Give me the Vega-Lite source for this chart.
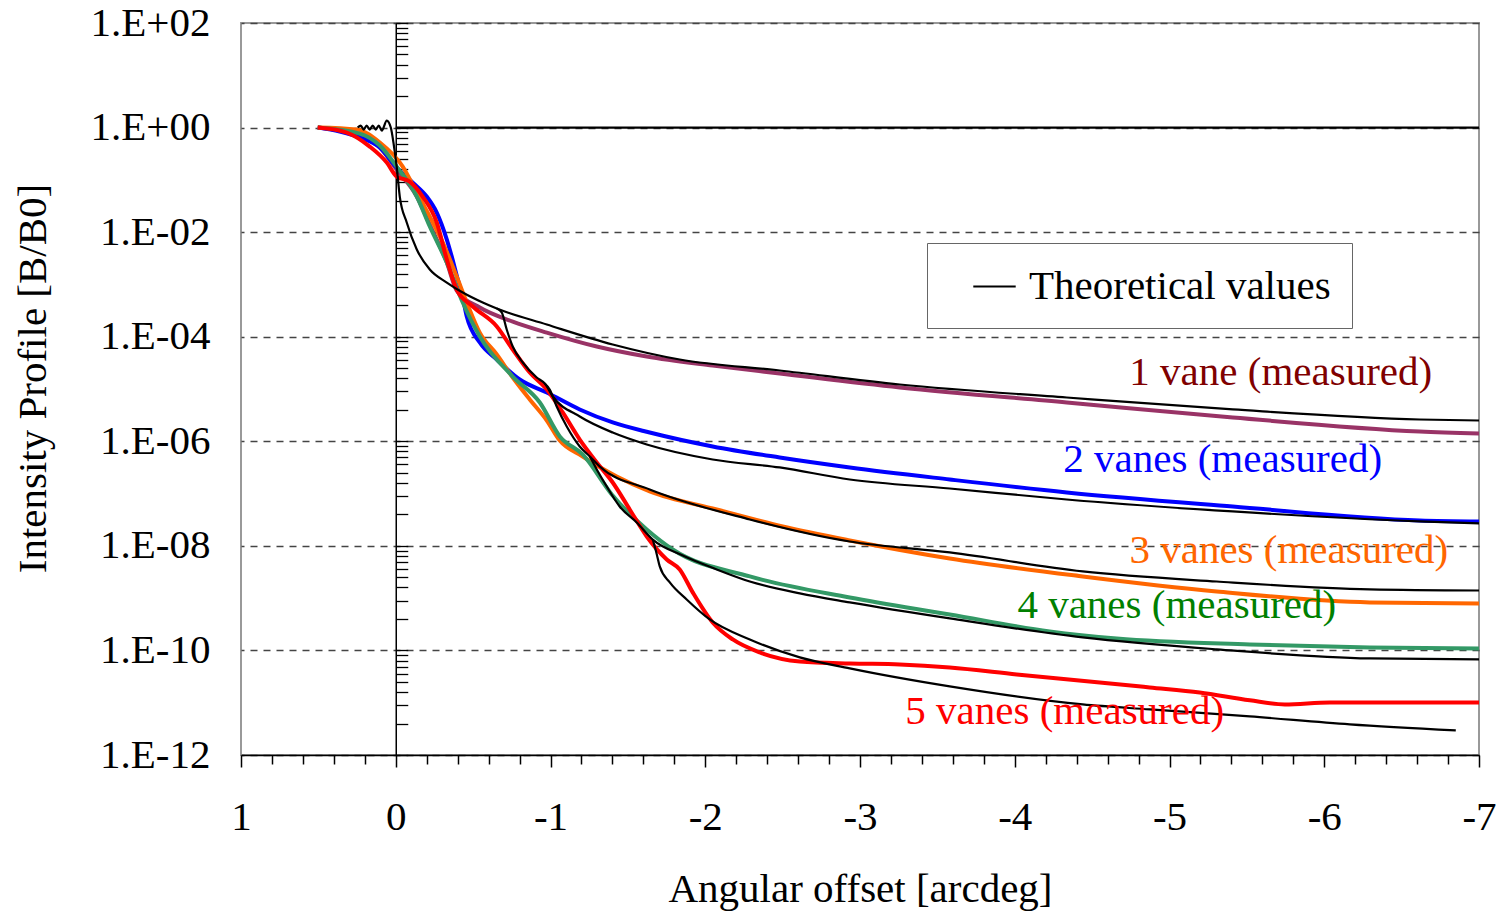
{
  "$schema": "https://vega.github.io/schema/vega-lite/v6.json",
  "width": 1238,
  "height": 732,
  "autosize": {"type": "none"},
  "padding": {"left": 241, "top": 23, "right": 23, "bottom": 156},
  "background": "white",
  "config": {
    "view": {"stroke": "#999999", "strokeWidth": 2},
    "text": {"font": "Liberation Serif"},
    "axis": {"labelOverlap": false}
  },
  "datasets": {
    "measured": [
      {"s":"1 vane","x":0.504,"y":1},{"s":"1 vane","x":0.233,"y":0.673},{"s":"1 vane","x":0.103,"y":0.415},{"s":"1 vane","x":-0.006,"y":0.157},{"s":"1 vane","x":-0.136,"y":0.048},{"s":"1 vane","x":-0.22,"y":0.01397},{"s":"1 vane","x":-0.33,"y":0.00262},{"s":"1 vane","x":-0.394,"y":7.64e-4},{"s":"1 vane","x":-0.543,"y":3.61e-4},{"s":"1 vane","x":-0.756,"y":1.95e-4},{"s":"1 vane","x":-0.976,"y":1.2e-4},{"s":"1 vane","x":-1.299,"y":6.5e-5},{"s":"1 vane","x":-1.622,"y":4.18e-5},{"s":"1 vane","x":-2.048,"y":2.81e-5},{"s":"1 vane","x":-2.481,"y":1.98e-5},{"s":"1 vane","x":-3.257,"y":1.07e-5},{"s":"1 vane","x":-4.336,"y":5.52e-6},{"s":"1 vane","x":-5.409,"y":2.85e-6},{"s":"1 vane","x":-6.617,"y":1.54e-6},{"s":"1 vane","x":-7,"y":1.41e-6},
      {"s":"2 vanes","x":0.504,"y":1},{"s":"2 vanes","x":0.362,"y":0.839},{"s":"2 vanes","x":0.233,"y":0.644},{"s":"2 vanes","x":0.103,"y":0.415},{"s":"2 vanes","x":-0.006,"y":0.172},{"s":"2 vanes","x":-0.11,"y":0.0887},{"s":"2 vanes","x":-0.2,"y":0.048},{"s":"2 vanes","x":-0.265,"y":0.0237},{"s":"2 vanes","x":-0.33,"y":0.00722},{"s":"2 vanes","x":-0.362,"y":0.00341},{"s":"2 vanes","x":-0.401,"y":0.00124},{"s":"2 vanes","x":-0.426,"y":7.0e-4},{"s":"2 vanes","x":-0.459,"y":2.43e-4},{"s":"2 vanes","x":-0.543,"y":7.74e-5},{"s":"2 vanes","x":-0.653,"y":3.66e-5},{"s":"2 vanes","x":-0.801,"y":1.52e-5},{"s":"2 vanes","x":-0.976,"y":8.57e-6},{"s":"2 vanes","x":-1.189,"y":4.06e-6},{"s":"2 vanes","x":-1.402,"y":2.29e-6},{"s":"2 vanes","x":-1.641,"y":1.47e-6},{"s":"2 vanes","x":-2.048,"y":7.96e-7},{"s":"2 vanes","x":-2.481,"y":4.9e-7},{"s":"2 vanes","x":-2.934,"y":3.16e-7},{"s":"2 vanes","x":-3.58,"y":1.86e-7},{"s":"2 vanes","x":-4.336,"y":1.05e-7},{"s":"2 vanes","x":-5.409,"y":5.66e-8},{"s":"2 vanes","x":-6.617,"y":3.06e-8},{"s":"2 vanes","x":-7,"y":2.93e-8},
      {"s":"3 vanes","x":0.504,"y":1},{"s":"3 vanes","x":0.252,"y":0.916},{"s":"3 vanes","x":0.103,"y":0.517},{"s":"3 vanes","x":-0.045,"y":0.1795},{"s":"3 vanes","x":-0.136,"y":0.0571},{"s":"3 vanes","x":-0.22,"y":0.01987},{"s":"3 vanes","x":-0.304,"y":0.00632},{"s":"3 vanes","x":-0.394,"y":0.001416},{"s":"3 vanes","x":-0.459,"y":4.51e-4},{"s":"3 vanes","x":-0.543,"y":1.2e-4},{"s":"3 vanes","x":-0.653,"y":4.57e-5},{"s":"3 vanes","x":-0.756,"y":1.66e-5},{"s":"3 vanes","x":-0.866,"y":6.3e-6},{"s":"3 vanes","x":-0.976,"y":2.5e-6},{"s":"3 vanes","x":-1.06,"y":1.03e-6},{"s":"3 vanes","x":-1.208,"y":5.12e-7},{"s":"3 vanes","x":-1.428,"y":2.12e-7},{"s":"3 vanes","x":-1.641,"y":1.1e-7},{"s":"3 vanes","x":-2.074,"y":4.97e-8},{"s":"3 vanes","x":-2.501,"y":2.35e-8},{"s":"3 vanes","x":-2.934,"y":1.27e-8},{"s":"3 vanes","x":-3.58,"y":5.74e-9},{"s":"3 vanes","x":-4.439,"y":2.6e-9},{"s":"3 vanes","x":-5.305,"y":1.34e-9},{"s":"3 vanes","x":-6.294,"y":8.28e-10},{"s":"3 vanes","x":-7,"y":7.93e-10},
      {"s":"4 vanes","x":0.504,"y":1},{"s":"4 vanes","x":0.233,"y":0.768},{"s":"4 vanes","x":0.103,"y":0.453},{"s":"4 vanes","x":-0.006,"y":0.1795},{"s":"4 vanes","x":-0.136,"y":0.048},{"s":"4 vanes","x":-0.22,"y":0.0128},{"s":"4 vanes","x":-0.33,"y":0.00262},{"s":"4 vanes","x":-0.433,"y":4.51e-4},{"s":"4 vanes","x":-0.543,"y":1.01e-4},{"s":"4 vanes","x":-0.756,"y":1.73e-5},{"s":"4 vanes","x":-0.931,"y":5.52e-6},{"s":"4 vanes","x":-1.06,"y":1.24e-6},{"s":"4 vanes","x":-1.208,"y":5.6e-7},{"s":"4 vanes","x":-1.396,"y":9.62e-8},{"s":"4 vanes","x":-1.622,"y":2.06e-8},{"s":"4 vanes","x":-1.79,"y":8.53e-9},{"s":"4 vanes","x":-2.288,"y":2.6e-9},{"s":"4 vanes","x":-2.934,"y":1.03e-9},{"s":"4 vanes","x":-3.58,"y":4.88e-10},{"s":"4 vanes","x":-4.226,"y":2.31e-10},{"s":"4 vanes","x":-4.659,"y":1.69e-10},{"s":"4 vanes","x":-5.519,"y":1.3e-10},{"s":"4 vanes","x":-6.294,"y":1.14e-10},{"s":"4 vanes","x":-7,"y":1.09e-10},
      {"s":"5 vanes","x":0.504,"y":1},{"s":"5 vanes","x":0.317,"y":0.802},{"s":"5 vanes","x":0.168,"y":0.433},{"s":"5 vanes","x":0.058,"y":0.214},{"s":"5 vanes","x":-0.006,"y":0.1156},{"s":"5 vanes","x":-0.09,"y":0.0927},{"s":"5 vanes","x":-0.174,"y":0.048},{"s":"5 vanes","x":-0.265,"y":0.01528},{"s":"5 vanes","x":-0.33,"y":0.00299},{"s":"5 vanes","x":-0.394,"y":7.98e-4},{"s":"5 vanes","x":-0.498,"y":3.78e-4},{"s":"5 vanes","x":-0.653,"y":1.57e-4},{"s":"5 vanes","x":-0.756,"y":5.69e-5},{"s":"5 vanes","x":-0.866,"y":2.07e-5},{"s":"5 vanes","x":-0.976,"y":9.77e-6},{"s":"5 vanes","x":-1.079,"y":3.56e-6},{"s":"5 vanes","x":-1.189,"y":1.08e-6},{"s":"5 vanes","x":-1.299,"y":3.94e-7},{"s":"5 vanes","x":-1.402,"y":1.63e-7},{"s":"5 vanes","x":-1.512,"y":4.97e-8},{"s":"5 vanes","x":-1.622,"y":1.51e-8},{"s":"5 vanes","x":-1.751,"y":5.5e-9},{"s":"5 vanes","x":-1.835,"y":3.54e-9},{"s":"5 vanes","x":-1.919,"y":1.29e-9},{"s":"5 vanes","x":-2.048,"y":3.43e-10},{"s":"5 vanes","x":-2.178,"y":1.62e-10},{"s":"5 vanes","x":-2.352,"y":9.16e-11},{"s":"5 vanes","x":-2.611,"y":6.17e-11},{"s":"5 vanes","x":-2.934,"y":5.64e-11},{"s":"5 vanes","x":-3.257,"y":5.4e-11},{"s":"5 vanes","x":-3.58,"y":4.73e-11},{"s":"5 vanes","x":-4.013,"y":3.48e-11},{"s":"5 vanes","x":-4.549,"y":2.44e-11},{"s":"5 vanes","x":-4.872,"y":1.96e-11},{"s":"5 vanes","x":-5.195,"y":1.57e-11},{"s":"5 vanes","x":-5.519,"y":1.11e-11},{"s":"5 vanes","x":-5.745,"y":9.27e-12},{"s":"5 vanes","x":-6.036,"y":1.01e-11},{"s":"5 vanes","x":-7,"y":1.01e-11}
    ],
    "theory": [
      {"s":"T0","k":"Theoretical values","x":0,"y":1},{"s":"T0","k":"Theoretical values","x":-7,"y":1},
      {"s":"T1","k":"Theoretical values","x":0.246,"y":1},{"s":"T1","k":"Theoretical values","x":0.226,"y":1.092},{"s":"T1","k":"Theoretical values","x":0.207,"y":0.916},{"s":"T1","k":"Theoretical values","x":0.188,"y":1.092},{"s":"T1","k":"Theoretical values","x":0.168,"y":0.916},{"s":"T1","k":"Theoretical values","x":0.149,"y":1.092},{"s":"T1","k":"Theoretical values","x":0.129,"y":0.916},{"s":"T1","k":"Theoretical values","x":0.11,"y":1.092},{"s":"T1","k":"Theoretical values","x":0.09,"y":0.877},{"s":"T1","k":"Theoretical values","x":0.058,"y":1.361},{"s":"T1","k":"Theoretical values","x":0.032,"y":1},{"s":"T1","k":"Theoretical values","x":0.013,"y":0.473},{"s":"T1","k":"Theoretical values","x":-0.006,"y":0.1795},{"s":"T1","k":"Theoretical values","x":-0.026,"y":0.048},{"s":"T1","k":"Theoretical values","x":-0.071,"y":0.01528},{"s":"T1","k":"Theoretical values","x":-0.136,"y":0.004645},{"s":"T1","k":"Theoretical values","x":-0.22,"y":0.001928},{"s":"T1","k":"Theoretical values","x":-0.33,"y":0.001087},{"s":"T1","k":"Theoretical values","x":-0.433,"y":7.0e-4},{"s":"T1","k":"Theoretical values","x":-0.562,"y":4.51e-4},{"s":"T1","k":"Theoretical values","x":-0.653,"y":3.46e-4},{"s":"T1","k":"Theoretical values","x":-0.976,"y":1.71e-4},{"s":"T1","k":"Theoretical values","x":-1.402,"y":7.1e-5},{"s":"T1","k":"Theoretical values","x":-1.835,"y":3.66e-5},{"s":"T1","k":"Theoretical values","x":-2.481,"y":2.26e-5},{"s":"T1","k":"Theoretical values","x":-3.257,"y":1.22e-5},{"s":"T1","k":"Theoretical values","x":-4.336,"y":6.87e-6},{"s":"T1","k":"Theoretical values","x":-5.409,"y":4.06e-6},{"s":"T1","k":"Theoretical values","x":-6.617,"y":2.61e-6},{"s":"T1","k":"Theoretical values","x":-7,"y":2.5e-6},
      {"s":"T2","k":"Theoretical values","x":-0.653,"y":3.46e-4},{"s":"T2","k":"Theoretical values","x":-0.685,"y":2.9e-4},{"s":"T2","k":"Theoretical values","x":-0.717,"y":1.374e-4},{"s":"T2","k":"Theoretical values","x":-0.756,"y":6.5e-5},{"s":"T2","k":"Theoretical values","x":-0.821,"y":3.21e-5},{"s":"T2","k":"Theoretical values","x":-0.911,"y":1.66e-5},{"s":"T2","k":"Theoretical values","x":-0.963,"y":1.27e-5},{"s":"T2","k":"Theoretical values","x":-1.015,"y":7.19e-6},{"s":"T2","k":"Theoretical values","x":-1.189,"y":2.98e-6},{"s":"T2","k":"Theoretical values","x":-1.402,"y":1.47e-6},{"s":"T2","k":"Theoretical values","x":-1.622,"y":8.69e-7},{"s":"T2","k":"Theoretical values","x":-2.048,"y":4.49e-7},{"s":"T2","k":"Theoretical values","x":-2.481,"y":3.16e-7},{"s":"T2","k":"Theoretical values","x":-2.934,"y":1.86e-7},{"s":"T2","k":"Theoretical values","x":-3.58,"y":1.25e-7},{"s":"T2","k":"Theoretical values","x":-4.336,"y":7.71e-8},{"s":"T2","k":"Theoretical values","x":-5.409,"y":4.55e-8},{"s":"T2","k":"Theoretical values","x":-6.617,"y":2.93e-8},{"s":"T2","k":"Theoretical values","x":-7,"y":2.68e-8},
      {"s":"T3","k":"Theoretical values","x":-0.963,"y":1.27e-5},{"s":"T3","k":"Theoretical values","x":-0.995,"y":9.77e-6},{"s":"T3","k":"Theoretical values","x":-1.04,"y":4.62e-6},{"s":"T3","k":"Theoretical values","x":-1.105,"y":1.92e-6},{"s":"T3","k":"Theoretical values","x":-1.189,"y":7.96e-7},{"s":"T3","k":"Theoretical values","x":-1.254,"y":5.12e-7},{"s":"T3","k":"Theoretical values","x":-1.318,"y":3.3e-7},{"s":"T3","k":"Theoretical values","x":-1.641,"y":1.2e-7},{"s":"T3","k":"Theoretical values","x":-2.288,"y":3.2e-8},{"s":"T3","k":"Theoretical values","x":-2.934,"y":1.21e-8},{"s":"T3","k":"Theoretical values","x":-3.58,"y":7.48e-9},{"s":"T3","k":"Theoretical values","x":-4.439,"y":3.24e-9},{"s":"T3","k":"Theoretical values","x":-5.305,"y":2.08e-9},{"s":"T3","k":"Theoretical values","x":-6.294,"y":1.47e-9},{"s":"T3","k":"Theoretical values","x":-7,"y":1.4e-9},
      {"s":"T4","k":"Theoretical values","x":-1.254,"y":5.12e-7},{"s":"T4","k":"Theoretical values","x":-1.299,"y":2.89e-7},{"s":"T4","k":"Theoretical values","x":-1.363,"y":1.37e-7},{"s":"T4","k":"Theoretical values","x":-1.447,"y":5.66e-8},{"s":"T4","k":"Theoretical values","x":-1.557,"y":2.8e-8},{"s":"T4","k":"Theoretical values","x":-1.661,"y":1.32e-8},{"s":"T4","k":"Theoretical values","x":-1.855,"y":6.55e-9},{"s":"T4","k":"Theoretical values","x":-2.074,"y":3.54e-9},{"s":"T4","k":"Theoretical values","x":-2.288,"y":2.08e-9},{"s":"T4","k":"Theoretical values","x":-2.611,"y":1.23e-9},{"s":"T4","k":"Theoretical values","x":-2.934,"y":8.28e-10},{"s":"T4","k":"Theoretical values","x":-3.58,"y":4.09e-10},{"s":"T4","k":"Theoretical values","x":-4.439,"y":1.77e-10},{"s":"T4","k":"Theoretical values","x":-5.305,"y":1.05e-10},{"s":"T4","k":"Theoretical values","x":-6.294,"y":7.03e-11},{"s":"T4","k":"Theoretical values","x":-7,"y":6.73e-11},
      {"s":"T5","k":"Theoretical values","x":-1.661,"y":1.32e-8},{"s":"T5","k":"Theoretical values","x":-1.687,"y":6.85e-9},{"s":"T5","k":"Theoretical values","x":-1.706,"y":4.04e-9},{"s":"T5","k":"Theoretical values","x":-1.771,"y":2.0e-9},{"s":"T5","k":"Theoretical values","x":-1.88,"y":9.44e-10},{"s":"T5","k":"Theoretical values","x":-2.029,"y":3.92e-10},{"s":"T5","k":"Theoretical values","x":-2.288,"y":1.62e-10},{"s":"T5","k":"Theoretical values","x":-2.611,"y":7.35e-11},{"s":"T5","k":"Theoretical values","x":-2.934,"y":4.53e-11},{"s":"T5","k":"Theoretical values","x":-3.58,"y":2.05e-11},{"s":"T5","k":"Theoretical values","x":-4.439,"y":9.27e-12},{"s":"T5","k":"Theoretical values","x":-4.872,"y":7.45e-12},{"s":"T5","k":"Theoretical values","x":-5.519,"y":5.47e-12},{"s":"T5","k":"Theoretical values","x":-6.165,"y":3.85e-12},{"s":"T5","k":"Theoretical values","x":-6.85,"y":2.95e-12}
    ],
    "labels": [
      {"t":"1 vane (measured)","x":-5.719,"y":1.98e-5},
      {"t":"2 vanes (measured)","x":-5.344,"y":4.3e-7},
      {"t":"3 vanes (measured)","x":-5.771,"y":7.81e-9},
      {"t":"4 vanes (measured)","x":-5.047,"y":6.94e-10},
      {"t":"5 vanes (measured)","x":-4.323,"y":6.52e-12}
    ]
  },
  "layer": [
    {
      "data": {"name": "measured"},
      "mark": {"type": "line", "strokeWidth": 4, "clip": true, "interpolate": "monotone"},
      "encoding": {
        "x": {
          "field": "x", "type": "quantitative",
          "scale": {"domain": [-7, 1], "reverse": true, "nice": false, "zero": false},
          "axis": {
            "orient": "bottom",
            "values": [1, 0, -1, -2, -3, -4, -5, -6, -7],
            "labelExpr": "(datum.value < -0.5 ? '-' : '') + abs(round(datum.value))",
            "tickSize": 12, "tickColor": "black", "tickWidth": 1.5,
            "domainColor": "black", "domainWidth": 1.5,
            "grid": false,
            "labelFont": "Liberation Serif", "labelFontSize": 41, "labelColor": "black",
            "labelPadding": 30, "labelFlush": false, "labelOverlap": false, "labelBound": false,
            "title": "Angular offset [arcdeg]",
            "titleFont": "Liberation Serif", "titleFontSize": 41, "titleFontWeight": "normal", "titleColor": "black",
            "titlePadding": 32,
            "zindex": 2
          }
        },
        "y": {
          "field": "y", "type": "quantitative",
          "scale": {"type": "log", "domain": [1e-12, 100], "nice": false},
          "axis": {
            "orient": "left",
            "values": [100, 1, 0.01, 1e-4, 1e-6, 1e-8, 1e-10, 1e-12],
            "labelExpr": "'1.E' + (round(log(datum.value)/LN10) < 0 ? '-' : '+') + (abs(round(log(datum.value)/LN10)) < 10 ? '0' : '') + abs(round(log(datum.value)/LN10))",
            "ticks": false, "tickSize": 0, "domain": false,
            "grid": true, "gridDash": [7, 6], "gridColor": "#444444", "gridWidth": 1.3,
            "labelFont": "Liberation Serif", "labelFontSize": 41, "labelColor": "black",
            "labelPadding": 31, "labelFlush": false, "labelOverlap": false, "labelBound": false,
            "title": "Intensity Profile [B/B0]",
            "titleFont": "Liberation Serif", "titleFontSize": 41, "titleFontWeight": "normal", "titleColor": "black",
            "titlePadding": 36, "titleY": 355
          }
        },
        "color": {
          "field": "s", "type": "nominal",
          "scale": {"domain": ["1 vane","2 vanes","3 vanes","4 vanes","5 vanes"], "range": ["#993366","#0000FF","#FF6600","#339966","#FF0000"]},
          "legend": null
        }
      }
    },
    {
      "data": {"name": "theory"},
      "mark": {"type": "line", "strokeWidth": 2.2, "clip": true, "interpolate": "monotone"},
      "encoding": {
        "x": {"field": "x", "type": "quantitative", "axis": null},
        "y": {
          "field": "y", "type": "quantitative",
          "axis": {
            "orient": "right", "offset": -1083.25,
            "values": [100,81,64,49,36,25,16,9,4,1,0.81,0.64,0.49,0.36,0.25,0.16,0.09,0.04,0.01,8.1e-3,6.4e-3,4.9e-3,3.6e-3,2.5e-3,1.6e-3,9e-4,4e-4,1e-4,8.1e-5,6.4e-5,4.9e-5,3.6e-5,2.5e-5,1.6e-5,9e-6,4e-6,1e-6,8.1e-7,6.4e-7,4.9e-7,3.6e-7,2.5e-7,1.6e-7,9e-8,4e-8,1e-8,8.1e-9,6.4e-9,4.9e-9,3.6e-9,2.5e-9,1.6e-9,9e-10,4e-10,1e-10,8.1e-11,6.4e-11,4.9e-11,3.6e-11,2.5e-11,1.6e-11,9e-12,4e-12,1e-12],
            "labels": false, "grid": false, "title": null,
            "ticks": true, "tickSize": 12, "tickColor": "black", "tickWidth": 1.3,
            "domainColor": "black", "domainWidth": 1.5
          }
        },
        "detail": {"field": "s", "type": "nominal"},
        "color": {
          "field": "k", "type": "nominal",
          "scale": {"domain": ["Theoretical values"], "range": ["#000000"]},
          "legend": {
            "orient": "none", "legendX": 686, "legendY": 220,
            "title": "\u2003", "titleOrient": "right", "titlePadding": 0,
            "titleFont": "Liberation Serif", "titleFontSize": 22,
            "symbolType": "stroke", "symbolSize": 1800, "symbolStrokeWidth": 2,
            "labelFont": "Liberation Serif", "labelFontSize": 41, "labelColor": "black",
            "labelLimit": 600, "labelOffset": 12,
            "padding": 21, "symbolOffset": 24,
            "strokeColor": "#666666", "fillColor": "white"
          }
        }
      }
    },
    {
      "data": {"name": "labels"},
      "mark": {"type": "text", "font": "Liberation Serif", "fontSize": 41, "align": "center", "baseline": "middle"},
      "encoding": {
        "x": {
          "field": "x", "type": "quantitative",
          "axis": {
            "orient": "bottom",
            "values": [0.8,0.6,0.4,0.2,-0.2,-0.4,-0.6,-0.8,-1.2,-1.4,-1.6,-1.8,-2.2,-2.4,-2.6,-2.8,-3.2,-3.4,-3.6,-3.8,-4.2,-4.4,-4.6,-4.8,-5.2,-5.4,-5.6,-5.8,-6.2,-6.4,-6.6,-6.8],
            "labels": false, "domain": false, "grid": false, "title": null,
            "ticks": true, "tickSize": 9, "tickColor": "black", "tickWidth": 1.5
          }
        },
        "y": {"field": "y", "type": "quantitative", "axis": null},
        "text": {"field": "t"},
        "color": {
          "field": "t", "type": "nominal",
          "scale": {"domain": ["1 vane (measured)","2 vanes (measured)","3 vanes (measured)","4 vanes (measured)","5 vanes (measured)"], "range": ["#800000","#0000FF","#FF6600","#008000","#FF0000"]},
          "legend": null
        }
      }
    }
  ],
  "resolve": {"scale": {"color": "independent"}, "axis": {"y": "independent", "x": "independent"}}
}
